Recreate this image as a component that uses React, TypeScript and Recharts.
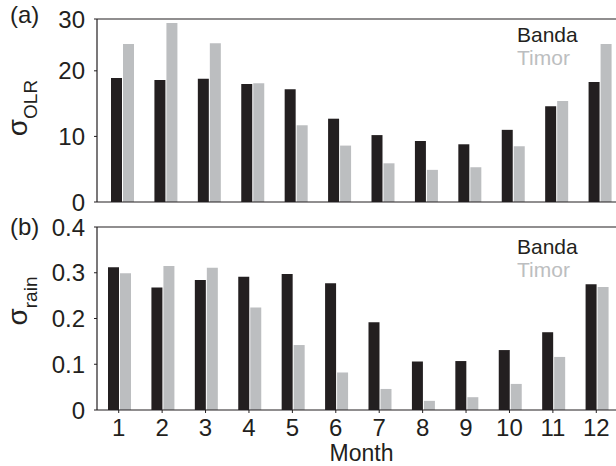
import { BarChart, Bar, XAxis, YAxis, Legend } from 'recharts'

const MONTHS = [1, 2, 3, 4, 5, 6, 7, 8, 9, 10, 11, 12]
const OLR_BANDA = [18.9, 18.6, 18.8, 18.0, 17.2, 12.7, 10.2, 9.3, 8.8, 11.0, 14.6, 18.3]
const OLR_TIMOR = [24.1, 27.3, 24.2, 18.1, 11.7, 8.6, 5.9, 4.9, 5.3, 8.5, 15.4, 24.1]
const RAIN_BANDA = [0.312, 0.268, 0.284, 0.291, 0.297, 0.277, 0.192, 0.106, 0.107, 0.131, 0.17, 0.275]
const RAIN_TIMOR = [0.299, 0.315, 0.311, 0.224, 0.142, 0.082, 0.046, 0.02, 0.028, 0.057, 0.116, 0.269]
// the top of panel (a) sits a little below 30 but is labelled 30
const OLR_TICKS = [0, 10, 20, 27.9]
const RAIN_TICKS = [0, 0.1, 0.2, 0.3, 0.4]

const DARK = '#231f20'
const GREY = '#bcbec0'
const FONT = '"Liberation Sans", Arial, Helvetica, sans-serif'

const olrData = MONTHS.map((m, i) => ({ month: m, banda: OLR_BANDA[i], timor: OLR_TIMOR[i] }))
const rainData = MONTHS.map((m, i) => ({ month: m, banda: RAIN_BANDA[i], timor: RAIN_TIMOR[i] }))

const tickStyle = { fontSize: 24, fill: DARK }

function SideLabel({ tag, sub, cy, tagY }: { tag: string; sub: string; cy: number; tagY: number }) {
  return (
    <g>
      <text x={10} y={tagY} fontSize={24} fill={DARK}>{tag}</text>
      <text x={27} y={cy} transform={`rotate(-90 27 ${cy})`} textAnchor="middle" fill={DARK}>
        <tspan fontSize={28}>σ</tspan>
        <tspan fontSize={19} dy={10}>{sub}</tspan>
      </text>
    </g>
  )
}

function LegendBox({ payload }: any) {
  return (
    <div style={{ fontSize: 21, lineHeight: '23px', fontFamily: FONT }}>
      {(payload || []).map((p: any) => (
        <div key={p.value} style={{ color: p.color }}>{p.value}</div>
      ))}
    </div>
  )
}

function Panel({ data, ticks, domain, fmt, tag, sub, cy, tagY, top, height, bottomH, legendTop, bottomLabels, shift }: any) {
  return (
    <BarChart width={630} height={height} data={data} margin={{ top: 0, right: 12, left: 0, bottom: 0 }} barSize={11} barGap={1}>
      <XAxis xAxisId="top" orientation="top" dataKey="month" height={top} tick={false} tickSize={3}
        axisLine={{ stroke: DARK, strokeWidth: 1.2 }} tickLine={{ stroke: DARK }} />
      <XAxis xAxisId="bars" dataKey="month" hide padding={{ left: shift, right: -shift }} />
      <XAxis dataKey="month" height={bottomH} tickSize={3} tickMargin={6} interval={0}
        tick={bottomLabels ? tickStyle : false}
        axisLine={{ stroke: DARK, strokeWidth: 1.2 }} tickLine={{ stroke: DARK }}
        label={bottomLabels ? { value: 'Month', position: 'insideBottom', offset: 5, dx: 4, fontSize: 23, fill: DARK } : undefined} />
      <YAxis width={97} domain={domain} ticks={ticks} interval={0} tickFormatter={fmt} tickSize={3} tickMargin={9}
        tick={tickStyle} axisLine={{ stroke: DARK, strokeWidth: 1.2 }} tickLine={{ stroke: DARK }}
        label={<SideLabel tag={tag} sub={sub} cy={cy} tagY={tagY} />} />
      <Legend layout="vertical" align="center" verticalAlign="middle" content={<LegendBox />}
        wrapperStyle={{ left: 517, top: legendTop, width: 'auto', height: 'auto' }} />
      <Bar xAxisId="bars" dataKey="banda" name="Banda" fill={DARK} isAnimationActive={false} />
      <Bar xAxisId="bars" dataKey="timor" name="Timor" fill={GREY} isAnimationActive={false} />
    </BarChart>
  )
}

export default function App() {
  return (
    <div style={{ position: 'fixed', left: 0, top: 0, width: 616, height: 466, overflow: 'hidden', background: '#fff', fontFamily: FONT }}>
      <div style={{ position: 'absolute', left: 0, top: 0 }}>
        <Panel data={olrData} ticks={OLR_TICKS} domain={[0, 27.9]} fmt={(v: number) => String(Math.round(v / 10) * 10)}
          tag="(a)" sub="OLR" cy={108} tagY={23} top={19} height={215} bottomH={13} legendTop={23}
          bottomLabels={false} shift={4} />
      </div>
      <div style={{ position: 'absolute', left: 0, top: 205 }}>
        <Panel data={rainData} ticks={RAIN_TICKS} domain={[0, 0.4]} fmt={(v: number) => String(v)}
          tag="(b)" sub="rain" cy={96} tagY={30} top={22} height={261} bottomH={56} legendTop={30}
          bottomLabels shift={1} />
      </div>
    </div>
  )
}
